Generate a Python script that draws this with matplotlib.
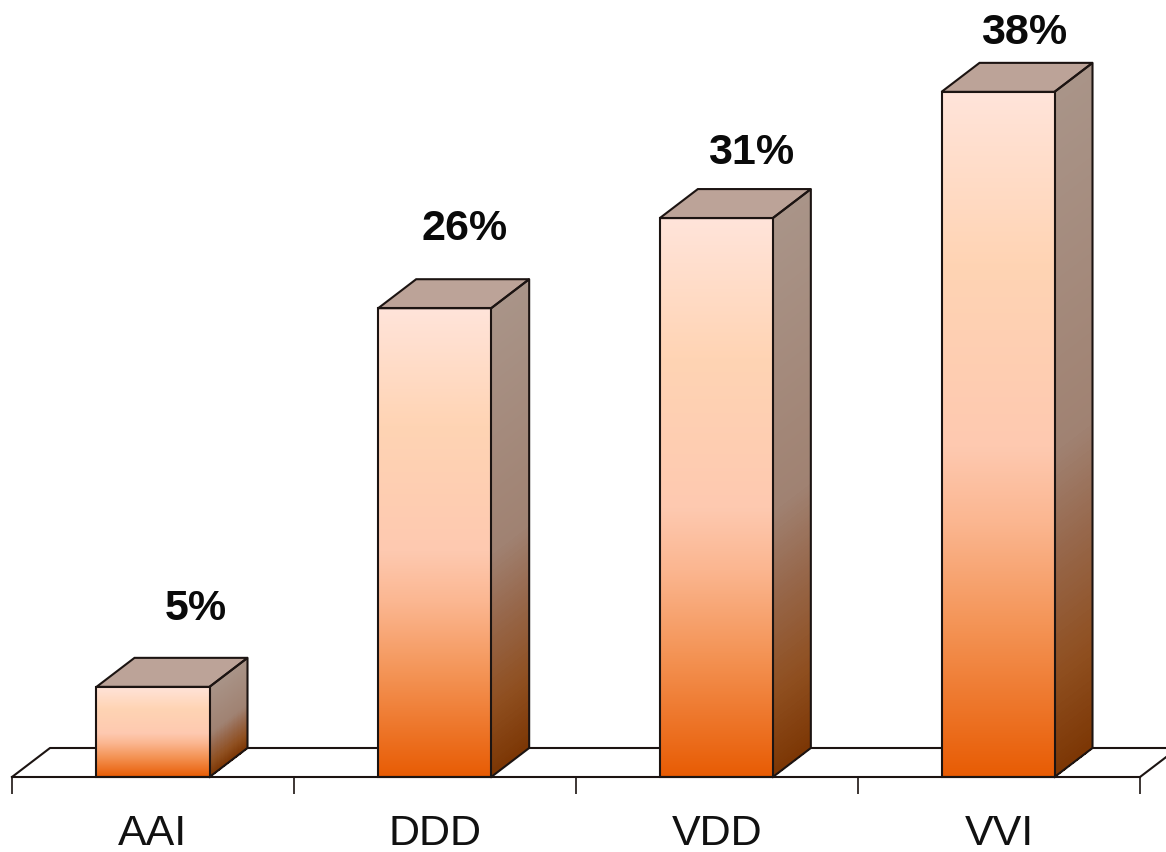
import matplotlib
matplotlib.use('Agg')
import matplotlib.pyplot as plt
from matplotlib.colors import LinearSegmentedColormap
import numpy as np

plt.rcParams['font.family'] = ['Liberation Sans', 'DejaVu Sans']

categories = ['AAI', 'DDD', 'VDD', 'VVI']
values = [5, 26, 31, 38]

# manual label nudges, in pixels from the top of each front face
label_dx = [43, 30, 35, 27]
label_dy = [79, 80, 66, 60]

W, H = 1166, 853
px_x = 282.0      # pixels per category
px_y = 18.03      # pixels per percent
x0, y0 = 12, 778  # where the baseline starts
bar_w = 113 / px_x
bar_step = 281.67 / px_x
dx = 38 / px_x    # 3d depth
dy = 29 / px_y
line = '#1c1412'
lw = 1.5

front = LinearSegmentedColormap.from_list('front', [
    (0.0, '#ffe4da'), (0.25, '#ffd4b4'), (0.52, '#fec9b0'), (0.63, '#fbb690'),
    (0.78, '#f49456'), (1.0, '#e85c04')])
side = LinearSegmentedColormap.from_list('side', [
    (0.0, '#a99488'), (0.52, '#a08272'), (0.67, '#97684c'),
    (0.85, '#8f4f20'), (1.0, '#7c3604')])

fig = plt.figure(figsize=(W / 100, H / 100), dpi=100)
ax = fig.add_axes([0, 0, 1, 1])
ax.set_xlim(-x0 / px_x, (W - x0) / px_x)
ax.set_ylim(-(H - y0) / px_y, y0 / px_y)

# floor of the 3d box
n = len(categories)
ax.plot([0, dx, W], [0, dy, dy], color=line, lw=lw, zorder=1)
ax.plot([n, n + dx], [0, dy], color=line, lw=lw, zorder=1)

grad = np.linspace(0, 1, 256).reshape(-1, 1)
xs = 0.5 + np.arange(n) * bar_step
bars = ax.bar(xs, values, width=bar_w, facecolor='none', edgecolor=line, lw=lw, zorder=5)

for i, (bar, v) in enumerate(zip(bars, values)):
    left = bar.get_x()
    right = left + bar_w
    # front face gradient, clipped to the bar
    im = ax.imshow(grad, cmap=front, extent=[left, right, 0, v], aspect='auto', zorder=3,
                   origin='upper', interpolation='bilinear')
    im.set_clip_path(bar.get_path(), bar.get_transform())

    # side face: rows sheared with the depth
    t = np.linspace(0, 1, 200)
    X = np.array([[right, right + dx]] * len(t))
    Y = np.column_stack([v * (1 - t), v * (1 - t) + dy])
    ax.pcolormesh(X, Y, t[:-1].reshape(-1, 1), cmap=side, shading='flat', zorder=3,
                  vmin=0, vmax=1, rasterized=True)
    ax.plot([right, right + dx, right + dx, right], [0, dy, v + dy, v], color=line, lw=lw, zorder=5)

    # top face
    ax.fill([left, left + dx, right + dx, right], [v, v + dy, v + dy, v],
            facecolor='#bca398', edgecolor=line, lw=lw, zorder=4)

    ax.annotate('%d%%' % v, (left, v), xytext=(label_dx[i] + 56, label_dy[i]),
                textcoords='offset pixels', ha='center', va='center',
                fontsize=31, fontweight='bold', color='#0a0a0a', zorder=6)

# axis line along the front of the floor
for s in ['top', 'left', 'right']:
    ax.spines[s].set_visible(False)
ax.spines['bottom'].set_position(('data', 0))
ax.spines['bottom'].set_bounds(0, n)
ax.spines['bottom'].set_linewidth(lw)
ax.spines['bottom'].set_color(line)
ax.spines['bottom'].set_zorder(6)
ax.set_yticks([])
ax.set_xticks(np.arange(n + 1))
ax.set_xticklabels([])
ax.tick_params(axis='x', which='major', length=12, width=1.2, color=line)
ax.set_xticks(np.arange(n) + 0.5, minor=True)
ax.set_xticklabels(categories, minor=True, fontsize=31, color='#111111')
ax.tick_params(axis='x', which='minor', length=0, pad=26)
ax.patch.set_visible(False)

fig.savefig('out.png', dpi=100, facecolor='white')
